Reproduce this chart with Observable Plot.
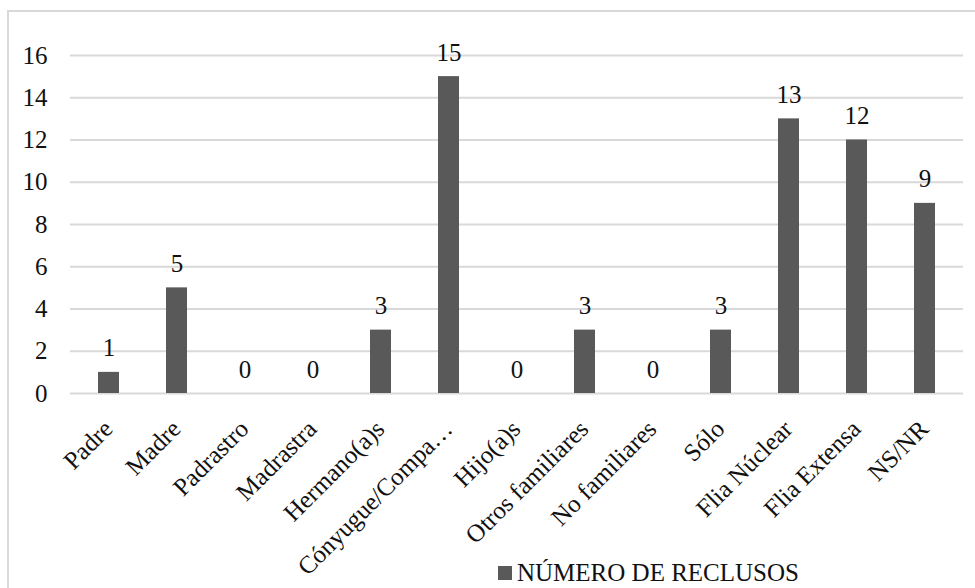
<!DOCTYPE html>
<html>
<head>
<meta charset="utf-8">
<script src="https://cdn.jsdelivr.net/npm/d3@7"></script>
<script src="https://cdn.jsdelivr.net/npm/@observablehq/plot@0.6"></script>
<style>
  html, body { margin: 0; padding: 0; background: #fff; }
  body { width: 975px; height: 588px; overflow: hidden; position: relative; font-family: "Liberation Serif", "Times New Roman", serif; }
  #frame { position: absolute; left: 7px; top: 10px; width: 1000px; height: 620px; border: 2px solid #d9d9d9; box-sizing: border-box; pointer-events: none; }
  #chart svg { overflow: visible; display: block; }
  #legend { padding-left: 498px; display: flex; align-items: center; font-family: "Liberation Serif", serif; font-size: 25px; color: #111; line-height: 28px; height: 28px; }
  #legend .sw { width: 14px; height: 14px; background: #595959; margin-right: 5px; flex: none; }
</style>
</head>
<body>
<div id="chart"></div>
<div id="legend"><span class="sw"></span><span id="legendText"></span></div>
<div id="frame"></div>
<script>
const categories = ["Padre","Madre","Padrastro","Madrastra","Hermano(a)s","Cónyugue/Compa…","Hijo(a)s","Otros familiares","No familiares","Sólo","Flia Núclear","Flia Extensa","NS/NR"];
const values = [1,5,0,0,3,15,0,3,0,3,13,12,9];
const yTicks = [0,2,4,6,8,10,12,14,16];
const seriesName = "NÚMERO DE RECLUSOS";

const FONT = "Liberation Serif";
const data = categories.map((c, i) => ({category: c, value: values[i]}));

const chart = Plot.plot({
  width: 975,
  height: 559,
  marginLeft: 70,
  marginRight: 12,
  marginTop: 55,
  marginBottom: 166,
  style: "font-family: 'Liberation Serif', serif; font-size: 25px; color: #111; background: transparent; overflow: visible;",
  x: {domain: categories, paddingInner: 0.69, paddingOuter: 0.345, label: null},
  y: {domain: [0, 16], ticks: yTicks, label: null},
  marks: [
    Plot.ruleY(yTicks, {stroke: "#d9d9d9", strokeWidth: 1.8}),
    Plot.barY(data, {x: "category", y: "value", fill: "#595959"}),
    Plot.text(data, {x: "category", y: "value", text: d => String(d.value), lineAnchor: "bottom", dy: -16, fill: "#111", fontSize: 25, fontFamily: FONT}),
    Plot.axisY({ticks: yTicks, tickSize: 0, tickPadding: 23, fontSize: 25, fontFamily: FONT, fill: "#111", label: null}),
    Plot.axisX({tickSize: 0, tickPadding: 37, tickRotate: -45, textAnchor: "end", lineAnchor: "bottom", dx: 5, fontSize: 25, fontFamily: FONT, fill: "#111", label: null})
  ]
});
document.getElementById("chart").appendChild(chart);
document.getElementById("legendText").textContent = seriesName;
</script>
</body>
</html>
